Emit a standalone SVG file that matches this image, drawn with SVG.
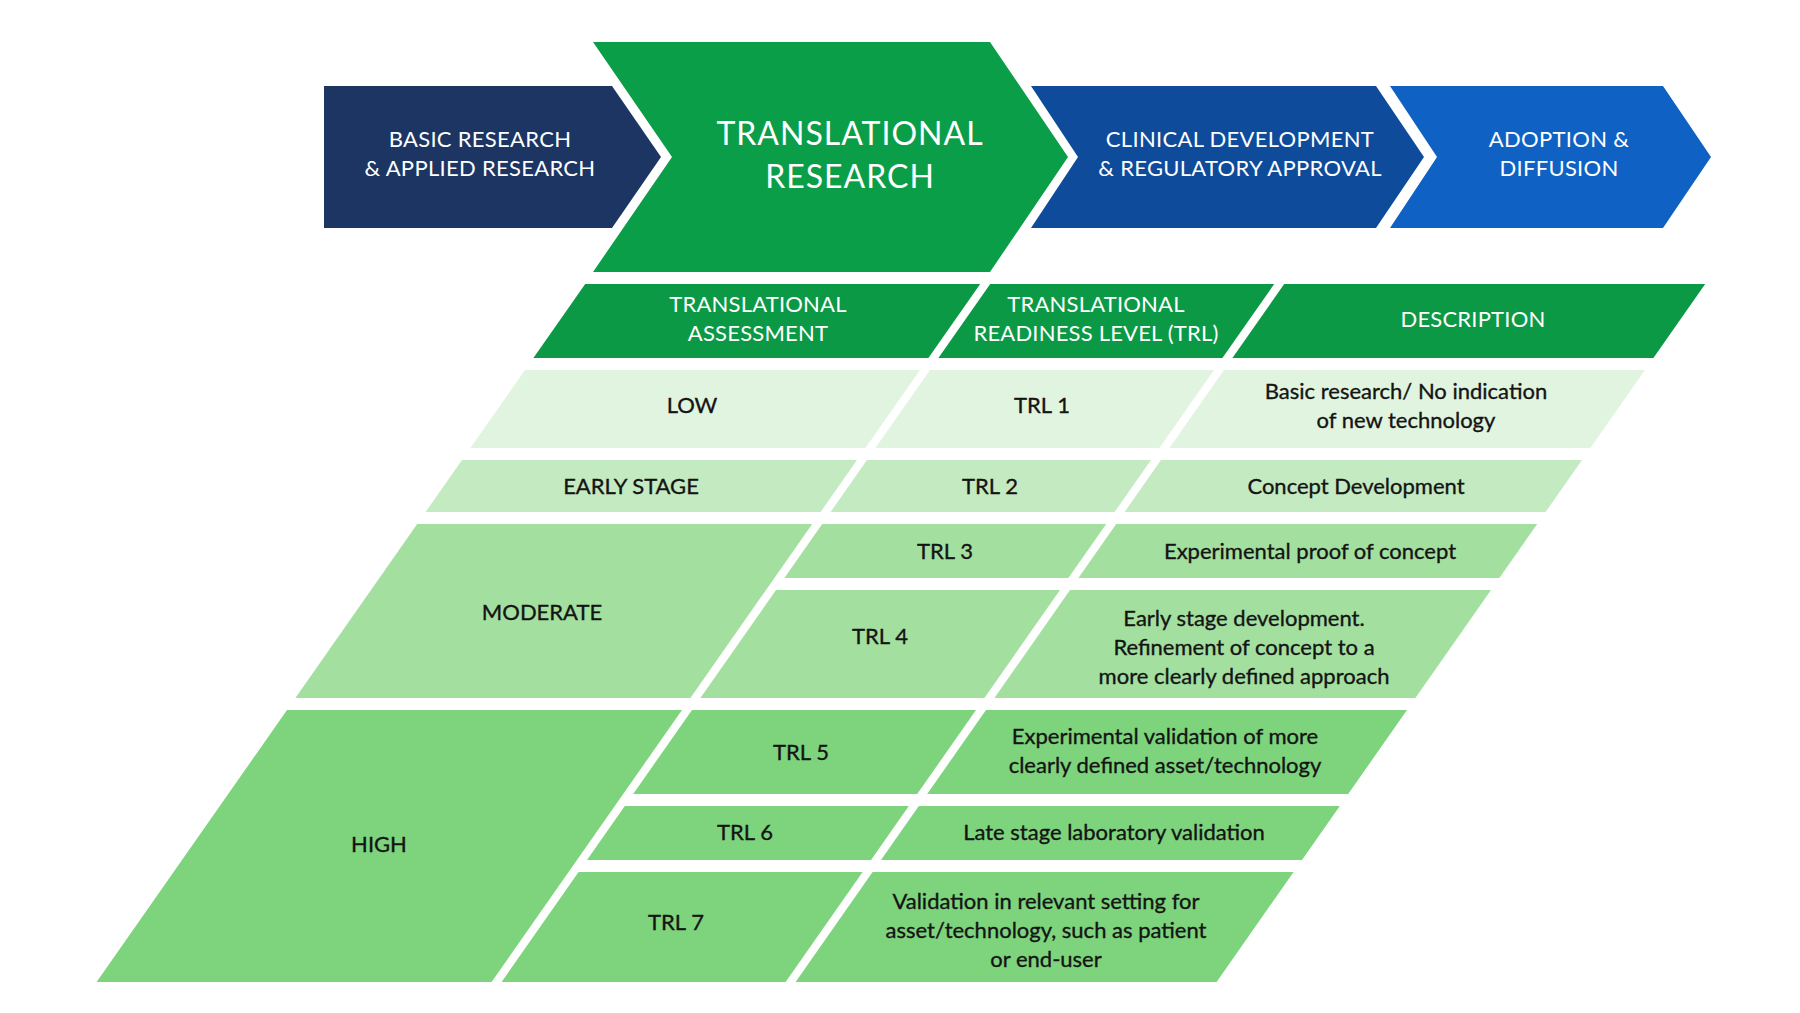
<svg xmlns="http://www.w3.org/2000/svg" width="1800" height="1013" viewBox="0 0 1800 1013">
<style>
  text { font-family: Lato, "Open Sans", "Liberation Sans", sans-serif; text-anchor: middle; }
  .wt { fill: #ffffff; font-size: 22px; letter-spacing: 0.3px; }
  .big { fill: #ffffff; font-size: 32px; letter-spacing: 1px; }
  .hd { fill: #ffffff; font-size: 22px; letter-spacing: 0.2px; }
  .bt { fill: #141414; font-size: 22px; stroke: #141414; stroke-width: 0.35px; }
  .navy { fill: #1c3563; }
  .grn { fill: #0a9e48; }
  .mid { fill: #0e4c9b; }
  .blu { fill: #0f62c4; }
  .hdr { fill: #0b9946; }
  .low { fill: #e1f4df; }
  .early { fill: #c4eac1; }
  .mod { fill: #a3e0a0; }
  .high { fill: #7dd47c; }
</style>
<rect width="1800" height="1013" fill="#ffffff"/>

<g id="stage-basic">
  <polygon class="navy" points="324,86 612,86 661,157 612,228 324,228"/>
  <text class="wt" x="480" y="147">BASIC RESEARCH</text>
  <text class="wt" x="480" y="176">&amp; APPLIED RESEARCH</text>
</g>
<g id="stage-translational">
  <polygon class="grn" points="593,42 990,42 1068,157 990,272 593,272 672,157"/>
  <text class="big" x="850" y="145">TRANSLATIONAL</text>
  <text class="big" x="850" y="188">RESEARCH</text>
</g>
<g id="stage-clinical">
  <polygon class="mid" points="1031,86 1376,86 1424,157 1376,228 1031,228 1078,157"/>
  <text class="wt" x="1240" y="147">CLINICAL DEVELOPMENT</text>
  <text class="wt" x="1240" y="176">&amp; REGULATORY APPROVAL</text>
</g>
<g id="stage-adoption">
  <polygon class="blu" points="1390,86 1663,86 1711,157 1663,228 1390,228 1437,157"/>
  <text class="wt" x="1559" y="147">ADOPTION &amp;</text>
  <text class="wt" x="1559" y="176">DIFFUSION</text>
</g>

<g id="header-assessment">
  <polygon class="hdr" points="585.2,284 980.2,284 928.4,358 533.4,358"/>
  <text class="hd" x="758" y="312">TRANSLATIONAL</text>
  <text class="hd" x="758" y="341">ASSESSMENT</text>
</g>
<g id="header-trl">
  <polygon class="hdr" points="990.2,284 1274.2,284 1222.4,358 938.4,358"/>
  <text class="hd" x="1096" y="312">TRANSLATIONAL</text>
  <text class="hd" x="1096" y="341">READINESS LEVEL (TRL)</text>
</g>
<g id="header-description">
  <polygon class="hdr" points="1284.2,284 1705.2,284 1653.4,358 1232.4,358"/>
  <text class="hd" x="1473" y="327">DESCRIPTION</text>
</g>

<g id="row-low">
  <polygon class="low" points="525,370 920,370 865.4,448 470.4,448"/>
  <text class="bt" x="692" y="413">LOW</text>
</g>
<g id="trl1">
  <polygon class="low" points="930,370 1214,370 1159.4,448 875.4,448"/>
  <text class="bt" x="1042" y="413">TRL 1</text>
</g>
<g id="desc1">
  <polygon class="low" points="1224,370 1645,370 1590.4,448 1169.4,448"/>
  <text class="bt" x="1406" y="399">Basic research/ No indication</text>
  <text class="bt" x="1406" y="428">of new technology</text>
</g>

<g id="row-early">
  <polygon class="early" points="462,460 857,460 820.6,512 425.6,512"/>
  <text class="bt" x="631" y="494">EARLY STAGE</text>
</g>
<g id="trl2">
  <polygon class="early" points="867,460 1151,460 1114.6,512 830.6,512"/>
  <text class="bt" x="990" y="494">TRL 2</text>
</g>
<g id="desc2">
  <polygon class="early" points="1161,460 1582,460 1545.6,512 1124.6,512"/>
  <text class="bt" x="1356" y="494">Concept Development</text>
</g>

<g id="row-moderate">
  <polygon class="mod" points="417.2,524 812.2,524 690.4,698 295.4,698"/>
  <text class="bt" x="542" y="620">MODERATE</text>
</g>
<g id="trl3">
  <polygon class="mod" points="822.2,524 1106.2,524 1068.4,578 784.4,578"/>
  <text class="bt" x="945" y="559">TRL 3</text>
</g>
<g id="desc3">
  <polygon class="mod" points="1116.2,524 1537.2,524 1499.4,578 1078.4,578"/>
  <text class="bt" x="1310" y="559">Experimental proof of concept</text>
</g>
<g id="trl4">
  <polygon class="mod" points="776,590 1060,590 984.4,698 700.4,698"/>
  <text class="bt" x="880" y="644">TRL 4</text>
</g>
<g id="desc4">
  <polygon class="mod" points="1070,590 1491,590 1415.4,698 994.4,698"/>
  <text class="bt" x="1244" y="626">Early stage development.</text>
  <text class="bt" x="1244" y="655">Refinement of concept to a</text>
  <text class="bt" x="1244" y="684">more clearly defined approach</text>
</g>

<g id="row-high">
  <polygon class="high" points="287,710 682,710 491.6,982 96.6,982"/>
  <text class="bt" x="379" y="852">HIGH</text>
</g>
<g id="trl5">
  <polygon class="high" points="692,710 976,710 917.2,794 633.2,794"/>
  <text class="bt" x="801" y="760">TRL 5</text>
</g>
<g id="desc5">
  <polygon class="high" points="986,710 1407,710 1348.2,794 927.2,794"/>
  <text class="bt" x="1165" y="744">Experimental validation of more</text>
  <text class="bt" x="1165" y="773">clearly defined asset/technology</text>
</g>
<g id="trl6">
  <polygon class="high" points="624.8,806 908.8,806 871,860 587,860"/>
  <text class="bt" x="745" y="840">TRL 6</text>
</g>
<g id="desc6">
  <polygon class="high" points="918.8,806 1339.8,806 1302,860 881,860"/>
  <text class="bt" x="1114" y="840">Late stage laboratory validation</text>
</g>
<g id="trl7">
  <polygon class="high" points="578.6,872 862.6,872 785.6,982 501.6,982"/>
  <text class="bt" x="676" y="930">TRL 7</text>
</g>
<g id="desc7">
  <polygon class="high" points="872.6,872 1293.6,872 1216.6,982 795.6,982"/>
  <text class="bt" x="1046" y="909">Validation in relevant setting for</text>
  <text class="bt" x="1046" y="938">asset/technology, such as patient</text>
  <text class="bt" x="1046" y="967">or end-user</text>
</g>

<g id="connectors"></g>
</svg>
